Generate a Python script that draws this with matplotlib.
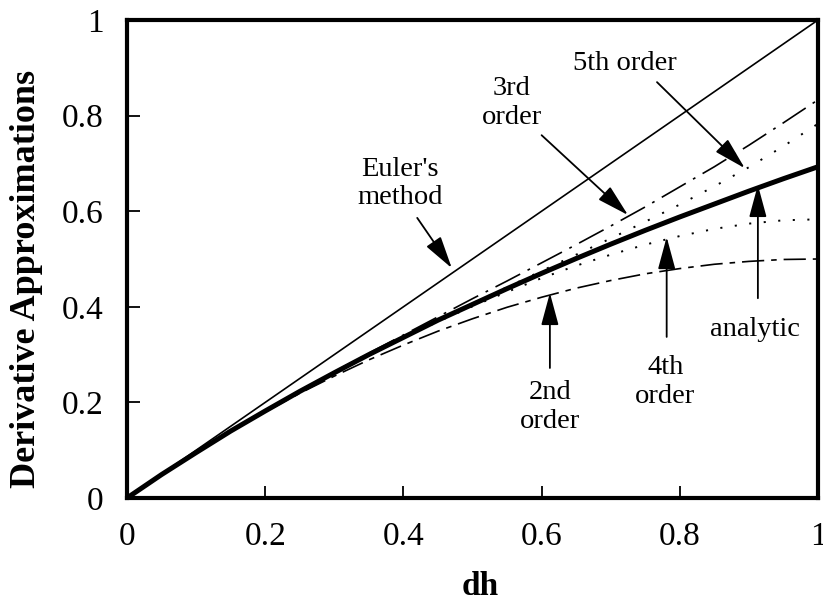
import matplotlib
matplotlib.use("Agg")
import matplotlib.pyplot as plt

plt.rcParams['font.family'] = ['Liberation Serif', 'DejaVu Serif']
plt.rcParams['lines.scale_dashes'] = False

dh = [0.0, 0.05, 0.1, 0.15, 0.2, 0.25, 0.3, 0.35, 0.4, 0.45, 0.5,
      0.55, 0.6, 0.65, 0.7, 0.75, 0.8, 0.85, 0.9, 0.95, 1.0]
euler = [0.0, 0.05, 0.1, 0.15, 0.2, 0.25, 0.3, 0.35, 0.4, 0.45, 0.5,
         0.55, 0.6, 0.65, 0.7, 0.75, 0.8, 0.85, 0.9, 0.95, 1.0]
second = [0.0, 0.049, 0.095, 0.139, 0.180, 0.219, 0.255, 0.289, 0.320, 0.349, 0.375,
          0.399, 0.420, 0.439, 0.455, 0.469, 0.480, 0.489, 0.495, 0.499, 0.500]
third = [0.0, 0.049, 0.095, 0.140, 0.183, 0.224, 0.264, 0.303, 0.341, 0.379, 0.417,
         0.454, 0.492, 0.530, 0.569, 0.609, 0.651, 0.693, 0.738, 0.785, 0.833]
fourth = [0.0, 0.049, 0.095, 0.140, 0.182, 0.223, 0.262, 0.299, 0.335, 0.369, 0.401,
          0.431, 0.460, 0.486, 0.509, 0.530, 0.548, 0.563, 0.574, 0.581, 0.583]
fifth = [0.0, 0.049, 0.095, 0.140, 0.182, 0.223, 0.262, 0.300, 0.337, 0.373, 0.407,
         0.441, 0.475, 0.509, 0.543, 0.578, 0.614, 0.652, 0.692, 0.736, 0.783]
analytic = [0.0, 0.049, 0.095, 0.140, 0.182, 0.223, 0.262, 0.300, 0.336, 0.372, 0.405,
            0.438, 0.470, 0.501, 0.531, 0.560, 0.588, 0.615, 0.642, 0.668, 0.693]

x_ticks = [0, 0.2, 0.4, 0.6, 0.8, 1]
y_ticks = [0, 0.2, 0.4, 0.6, 0.8, 1]
x_ticklabels = ['0', '0.2', '0.4', '0.6', '0.8', '1']
y_ticklabels = ['0', '0.2', '0.4', '0.6', '0.8', '1']

fig = plt.figure(figsize=(8.23, 6.05), dpi=100)
ax = fig.add_axes([127/823, 1 - 498/605, (818-127)/823, (498-20)/605])

ax.plot(dh, euler, color='k', lw=1.2)
ax.plot(dh, analytic, color='k', lw=3.6)
ax.plot(dh, second, color='k', lw=1.2, dashes=[16, 5, 4, 5])
ax.plot(dh, third, color='k', lw=1.2, dashes=[20, 6, 2, 6])
ax.plot(dh, fourth, color='k', lw=1.4, dashes=[1.5, 9])
ax.plot(dh, fifth, color='k', lw=1.4, dashes=[1.5, 10])

ax.set_xlim(0, 1)
ax.set_ylim(0, 1)
ax.set_xticks(x_ticks)
ax.set_xticklabels(x_ticklabels)
ax.set_yticks(y_ticks)
ax.set_yticklabels(y_ticklabels)
ax.tick_params(direction='in', length=9, width=1.3, labelsize=24,
               top=False, right=False)
ax.tick_params(axis='x', pad=17)
ax.tick_params(axis='y', pad=17)
for s in ax.spines.values():
    s.set_linewidth(3)

ax.set_xlabel('dh', fontsize=24, fontweight='bold')
ax.xaxis.label.set_va('center')
ax.xaxis.set_label_coords(0.511, -0.186)
ax.set_ylabel('Derivative Approximations', fontsize=26, fontweight='bold')
ax.yaxis.label.set_va('center')
ax.yaxis.set_label_coords(-0.146, 0.458)

aprops = dict(arrowstyle='-|>,head_length=1.0,head_width=0.27', color='k', lw=1.3,
              shrinkA=0, shrinkB=0, mutation_scale=20)
fs = 20.5

def label(text, xy_text, xy_tail, xy_head):
    ax.text(xy_text[0], xy_text[1], text, ha='center', va='center',
            fontsize=fs, linespacing=1.18)
    ax.annotate('', xy=xy_head, xytext=xy_tail, arrowprops=aprops)

label("Euler's\nmethod", (0.395, 0.658), (0.420, 0.586), (0.470, 0.481))
label("3rd\norder", (0.557, 0.826), (0.600, 0.759), (0.725, 0.592))
label("5th order", (0.721, 0.908), (0.767, 0.870), (0.894, 0.690))
label("analytic", (0.909, 0.352), (0.913, 0.418), (0.913, 0.655))
label("4th\norder", (0.779, 0.243), (0.781, 0.337), (0.781, 0.546))
label("2nd\norder", (0.612, 0.190), (0.612, 0.272), (0.612, 0.429))

fig.savefig('out.png', dpi=100)
